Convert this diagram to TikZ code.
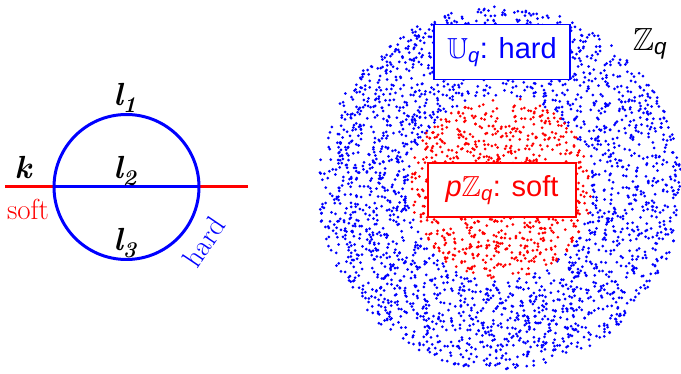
\documentclass[tikz,border=0pt]{standalone}
\usepackage{amsmath,amssymb}
\usepackage{fontspec}
\setmainfont{Liberation Sans}
\newfontfamily\lmfont{Latin Modern Roman}
\tikzset{
  prop/.style={line width=3pt},
  leg/.style={font=\lmfont\bfseries\itshape\fontsize{32}{34}\selectfont},
  regtag/.style={font=\lmfont\fontsize{29}{32}\selectfont},
  setbox/.style={draw, fill=white, line width=1.3pt, inner sep=0pt,
    font=\fontsize{29}{34}\selectfont},
}
\begin{document}
\begin{tikzpicture}[x=1pt,y=-1pt]
\useasboundingbox (0,0) rectangle (681,374);
\coordinate (kin) at (5,187);
\coordinate (v1) at (54,187);
\coordinate (v2) at (199,187);
\coordinate (kout) at (248,187);
\coordinate (loop) at (126.5,187);
\draw[prop,red] (kin) -- (v1);
\draw[prop,red] (v2) -- (kout);
\draw[prop,blue] (v1) -- (v2);
\draw[prop,blue] (loop) circle (72.5);
\node[leg] (k) at (23,168) {k};
\node[leg] (l1) at (125,98) {l\textsubscript{1}};
\node[leg] (l2) at (125,171) {l\textsubscript{2}};
\node[leg] (l3) at (125,243) {l\textsubscript{3}};
\node[regtag,red] (soft) at (28,209) {soft};
\node[regtag,blue,rotate=56] (hard) at (204,242) {hard};

\coordinate (ctr) at (500,188);
\pgfmathsetseed{11}
\foreach \i in {1,...,2500}{
  \pgfmathsetmacro\rr{182*sqrt(0.2556+0.7444*rnd)}
  \pgfmathsetmacro\aa{360*rnd}
  \fill[blue] ([shift={(\aa:\rr)}]ctr) circle (1.5);
}
\foreach \i in {1,...,900}{
  \pgfmathsetmacro\rr{92*sqrt(rnd)}
  \pgfmathsetmacro\aa{360*rnd}
  \fill[red] ([shift={(\aa:\rr)}]ctr) circle (1.5);
}
\node[setbox,draw=blue,text=blue,minimum width=136pt,minimum height=55pt] (Uq) at (502,52) {$\mathbb{U}_{\textit{q}}$: hard};
\node[setbox,draw=red,text=red,minimum width=148pt,minimum height=54pt] (pZq) at (502,190) {\textit{p}$\mathbb{Z}_{\textit{q}}$: soft};
\node[font=\fontsize{32}{36}\selectfont] (Zq) at (650,44) {$\mathbb{Z}_{\textit{q}}$};
\end{tikzpicture}
\end{document}
